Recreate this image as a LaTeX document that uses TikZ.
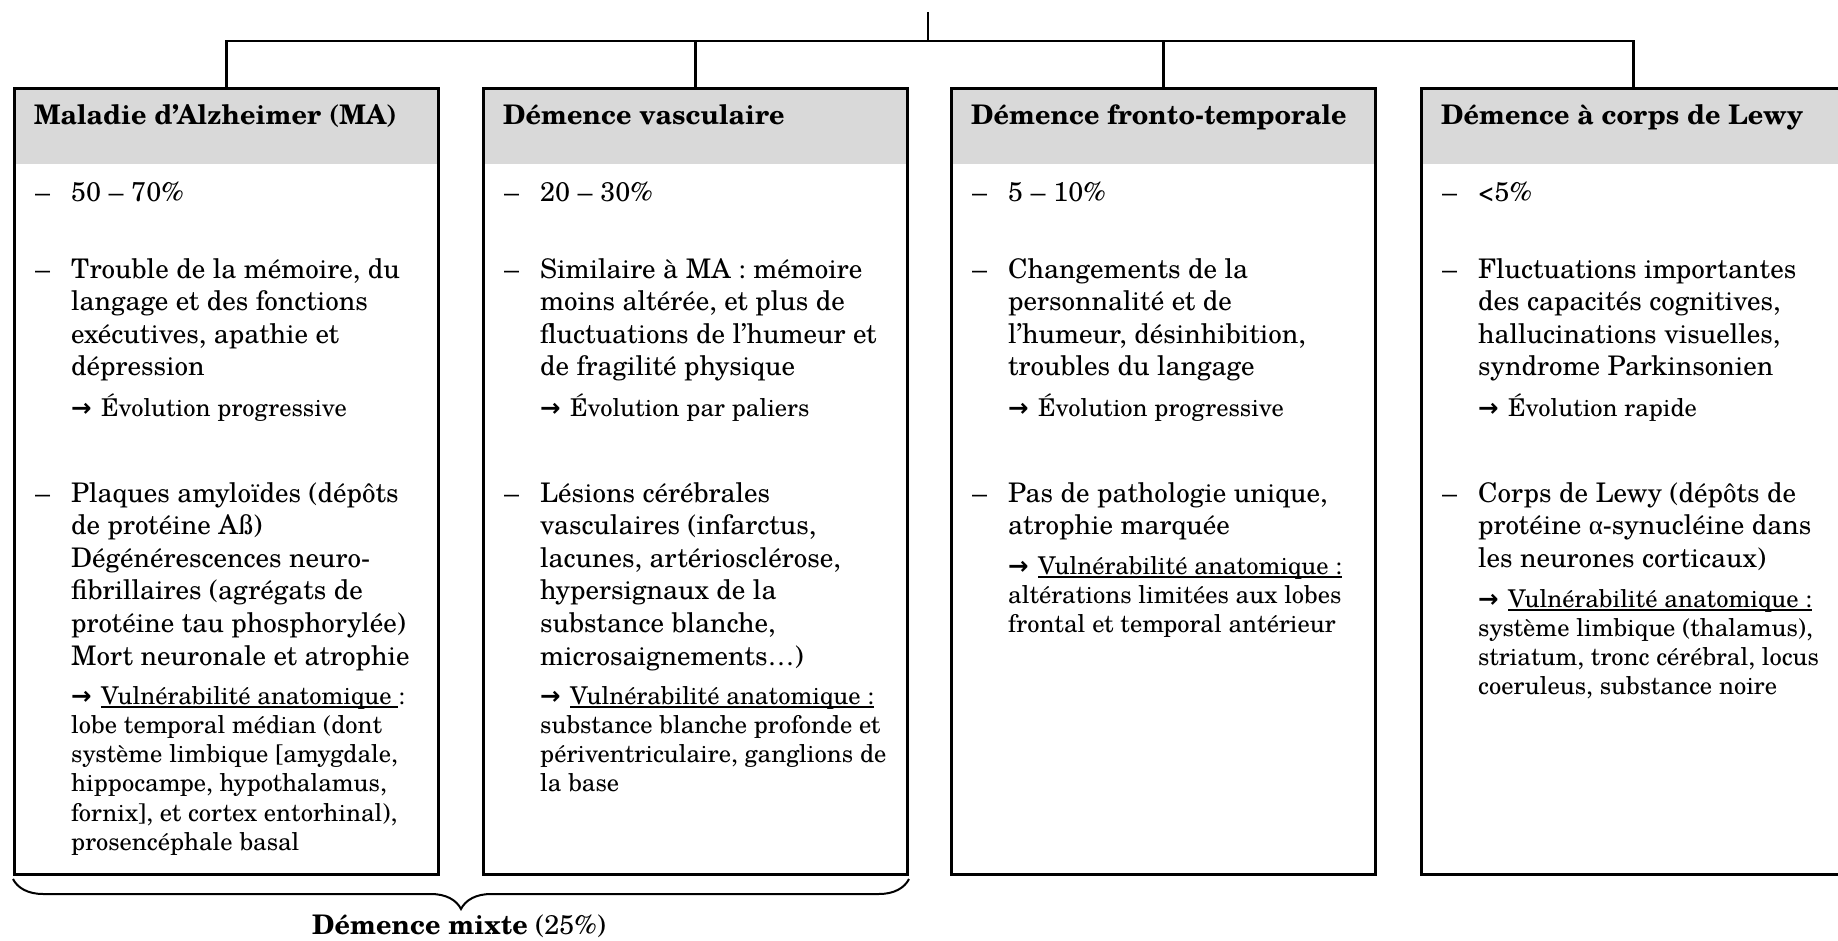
\documentclass[tikz,border=0pt]{standalone}
\usepackage{fontspec}
\setmainfont{texgyreschola}[Extension=.otf,UprightFont=*-regular,BoldFont=*-bold,ItalicFont=*-italic,BoldItalicFont=*-bolditalic]
\newfontfamily\symfont{DejaVu Sans}
\newfontfamily\greekfont{Liberation Serif}
\usetikzlibrary{decorations.pathreplacing}
\newcommand{\bodyfs}{\fontsize{27}{32.6}\selectfont}
\newcommand{\smallfs}{\fontsize{24.5}{29.3}\selectfont}
\newcommand{\headfs}{\fontsize{27}{30}\selectfont\bfseries}
\newcommand{\mixfs}{\fontsize{27}{30}\selectfont}
\newcommand{\arr}{{\symfont\bfseries →}\hspace{0.38em}}
\newcommand{\ulx}[1]{\setbox0\hbox{#1}\rlap{\rule[-3.5pt]{\wd0}{1.1pt}}\box0}
\newcommand{\li}[1]{\hbox{#1}}
\definecolor{headgray}{HTML}{D9D9D9}
\tikzset{
  boxst/.style={draw=black, line width=3pt, anchor=north west, inner sep=0pt, minimum width=424pt, minimum height=786pt},
  headst/.style={fill=headgray, anchor=north west, inner sep=0pt, minimum width=424pt, minimum height=77pt},
  headtxt/.style={anchor=base west, inner sep=0pt, font=\headfs},
  bodytxt/.style={anchor=base west, inner sep=0pt, font=\bodyfs},
  smalltxt/.style={anchor=base west, inner sep=0pt, font=\smallfs},
  conn/.style={line width=2.5pt},
  bracest/.style={line width=2pt, decorate, decoration={brace, mirror, amplitude=30pt}}
}
\begin{document}
\begin{tikzpicture}[x=1pt,y=-1pt]
\useasboundingbox (0,0) rectangle (1838,941);
\fill[white] (0,0) rectangle (1838,941);
\clip (0,0) rectangle (1838,941);

% headers (fill)
\node[headst] (h1) at (13,87) {};
\node[headst] (h2) at (482,87) {};
\node[headst] (h3) at (950,87) {};
\node[headst] (h4) at (1420,87) {};
% boxes
\node[boxst] (b1) at (13,87) {};
\node[boxst] (b2) at (482,87) {};
\node[boxst] (b3) at (950,87) {};
\node[boxst] (b4) at (1420,87) {};

% connectors
\coordinate (top) at (928,12);
\coordinate (bar) at (928,41);
\draw[conn] (top) -- (bar);
\draw[conn] (b1.north) |- (bar) -| (b4.north);
\draw[conn] (b2.north) -- (b2.north |- bar);
\draw[conn] (b3.north) -- (b3.north |- bar);

% header texts
\node[headtxt] (t1) at (34,125) {Maladie d’Alzheimer (MA)};
\node[headtxt] (t2) at (503,125) {Démence vasculaire};
\node[headtxt] (t3) at (971,125) {Démence fronto-temporale};
\node[headtxt] (t4) at (1441,125) {Démence à corps de Lewy};

% ---------- Box 1
\node[bodytxt] (d11) at (35,202) {–};
\node[bodytxt] (p11) at (71,202) {50 – 70\%};
\node[bodytxt] (d12) at (35,278) {–};
\node[bodytxt] (p12) at (71,278) {\vtop{\li{Trouble de la mémoire, du}\li{langage et des fonctions}\li{exécutives, apathie et}\li{dépression}}};
\node[smalltxt] (e11) at (71,416) {\arr Évolution progressive};
\node[bodytxt] (d13) at (35,502) {–};
\node[bodytxt] (p13) at (71,502) {\vtop{\li{Plaques amyloïdes (dépôts}\li{de protéine Aß)}\li{Dégénérescences neuro-}\li{fibrillaires (agrégats de}\li{protéine tau phosphorylée)}\li{Mort neuronale et atrophie}}};
\node[smalltxt] (v1) at (71,704) {\vtop{\li{\arr \ulx{Vulnérabilité anatomique\ }:}\li{lobe temporal médian (dont}\li{système limbique [amygdale,}\li{hippocampe, hypothalamus,}\li{fornix], et cortex entorhinal),}\li{prosencéphale basal}}};

% ---------- Box 2
\node[bodytxt] (d21) at (504,202) {–};
\node[bodytxt] (p21) at (540,202) {20 – 30\%};
\node[bodytxt] (d22) at (504,278) {–};
\node[bodytxt] (p22) at (540,278) {\vtop{\li{Similaire à MA : mémoire}\li{moins altérée, et plus de}\li{fluctuations de l’humeur et}\li{de fragilité physique}}};
\node[smalltxt] (e21) at (540,416) {\arr Évolution par paliers};
\node[bodytxt] (d23) at (504,502) {–};
\node[bodytxt] (p23) at (540,502) {\vtop{\li{Lésions cérébrales}\li{vasculaires (infarctus,}\li{lacunes, artériosclérose,}\li{hypersignaux de la}\li{substance blanche,}\li{microsaignements…)}}};
\node[smalltxt] (v2) at (540,704) {\vtop{\li{\arr \ulx{Vulnérabilité anatomique :}}\li{substance blanche profonde et}\li{périventriculaire, ganglions de}\li{la base}}};

% ---------- Box 3
\node[bodytxt] (d31) at (972,202) {–};
\node[bodytxt] (p31) at (1008,202) {5 – 10\%};
\node[bodytxt] (d32) at (972,278) {–};
\node[bodytxt] (p32) at (1008,278) {\vtop{\li{Changements de la}\li{personnalité et de}\li{l’humeur, désinhibition,}\li{troubles du langage}}};
\node[smalltxt] (e31) at (1008,416) {\arr Évolution progressive};
\node[bodytxt] (d33) at (972,502) {–};
\node[bodytxt] (p33) at (1008,502) {\vtop{\li{Pas de pathologie unique,}\li{atrophie marquée}}};
\node[smalltxt] (v3) at (1008,574) {\vtop{\li{\arr \ulx{Vulnérabilité anatomique :}}\li{altérations limitées aux lobes}\li{frontal et temporal antérieur}}};

% ---------- Box 4
\node[bodytxt] (d41) at (1442,202) {–};
\node[bodytxt] (p41) at (1478,202) {<5\%};
\node[bodytxt] (d42) at (1442,278) {–};
\node[bodytxt] (p42) at (1478,278) {\vtop{\li{Fluctuations importantes}\li{des capacités cognitives,}\li{hallucinations visuelles,}\li{syndrome Parkinsonien}}};
\node[smalltxt] (e41) at (1478,416) {\arr Évolution rapide};
\node[bodytxt] (d43) at (1442,502) {–};
\node[bodytxt] (p43) at (1478,502) {\vtop{\li{Corps de Lewy (dépôts de}\li{protéine {\greekfont α}-synucléine dans}\li{les neurones corticaux)}}};
\node[smalltxt] (v4) at (1478,607) {\vtop{\li{\arr \ulx{Vulnérabilité anatomique :}}\li{système limbique (thalamus),}\li{striatum, tronc cérébral, locus}\li{coeruleus, substance noire}}};

% ---------- brace and mixed dementia
\draw[bracest] ([yshift=-3pt]b1.south west) -- ([yshift=-3pt]b2.south east);
\node[anchor=base, inner sep=0pt, font=\mixfs] (mixte) at (459,934) {\textbf{Démence mixte} (25\%)};
\end{tikzpicture}
\end{document}
